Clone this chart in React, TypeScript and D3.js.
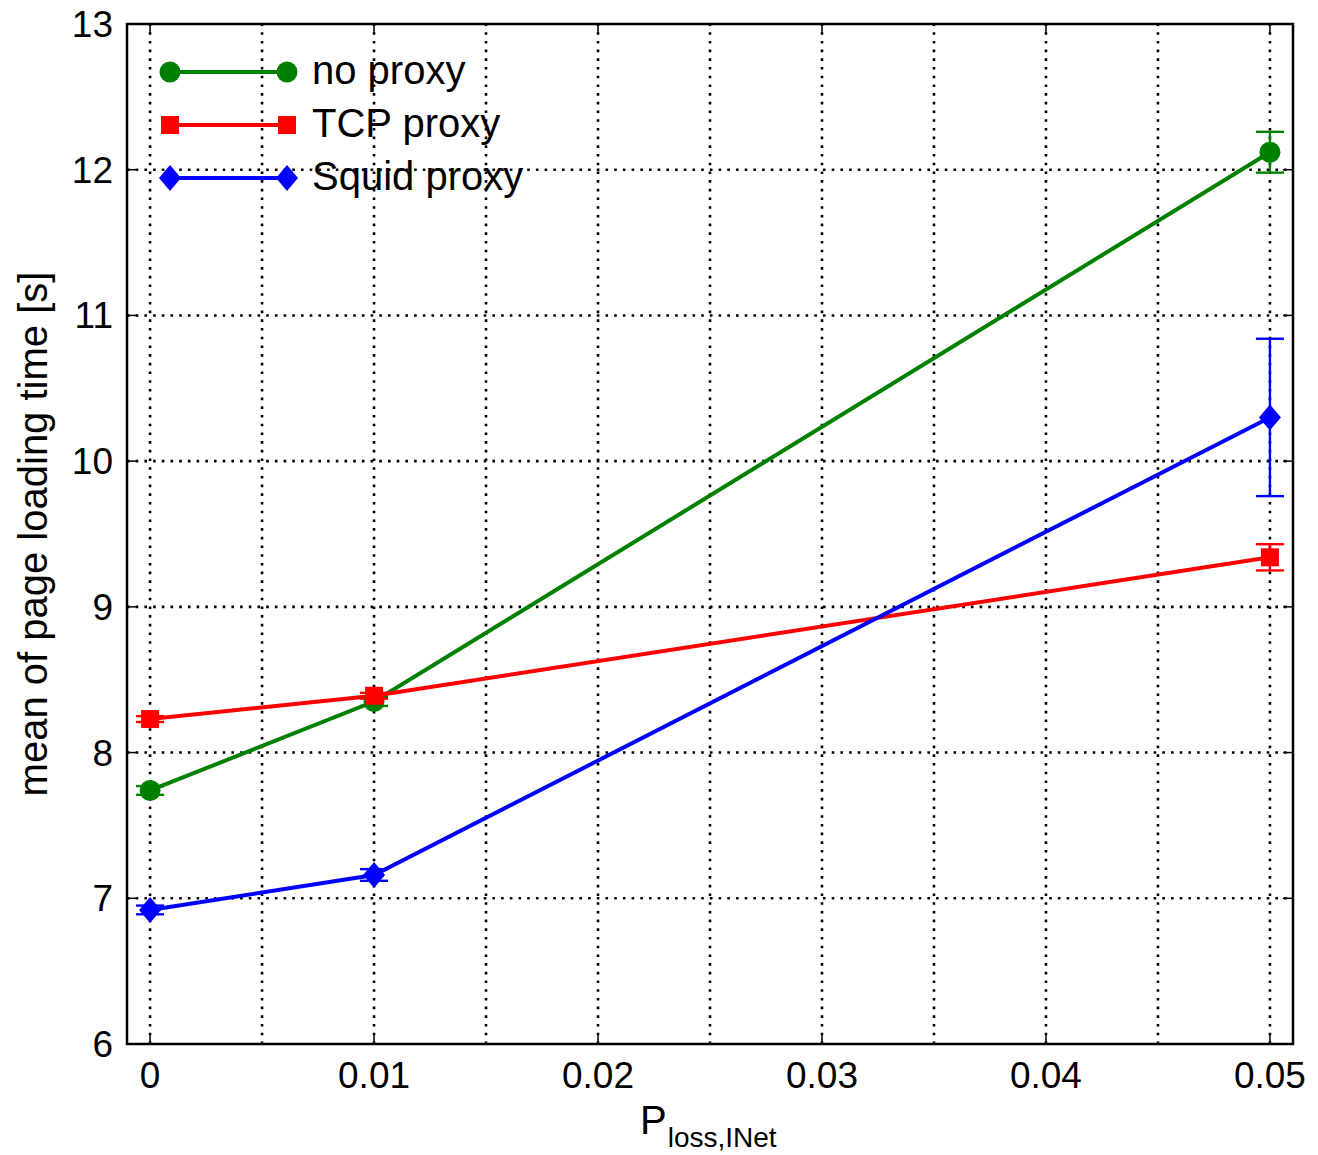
import * as d3 from "d3";
import React, { useEffect, useRef } from "react";

const lossRates = [0, 0.01, 0.05];
const seriesNames = ["no proxy", "TCP proxy", "Squid proxy"];
const seriesColors = ["#008000", "#ff0000", "#0000ff"];
const seriesMarkers = ["circle", "square", "diamond"];
const noProxy = [7.74, 8.35, 12.12];
const noProxyErr = [0.03, 0.03, 0.14];
const tcpProxy = [8.23, 8.39, 9.34];
const tcpProxyErr = [0.02, 0.02, 0.09];
const squidProxy = [6.92, 7.16, 10.3];
const squidProxyErr = [0.03, 0.04, 0.54];
const xTicks = [0, 0.01, 0.02, 0.03, 0.04, 0.05];
const xGrid = [0, 0.005, 0.01, 0.015, 0.02, 0.025, 0.03, 0.035, 0.04, 0.045, 0.05];
const yTicks = [6, 7, 8, 9, 10, 11, 12, 13];

const W = 1318;
const H = 1155;
const margin = { left: 127, right: 25, top: 24, bottom: 111 };
const FONT = "'Liberation Sans', Arial, sans-serif";

const App = () => {
  const ref = useRef<SVGSVGElement>(null);

  useEffect(() => {
    const svg = d3.select(ref.current);
    svg.selectAll("*").remove();

    const x = d3
      .scaleLinear()
      .domain([-0.00103, 0.05103])
      .range([margin.left, W - margin.right]);
    const y = d3
      .scaleLinear()
      .domain([6, 13])
      .range([H - margin.bottom, margin.top]);

    const [x0, x1] = x.range();
    const [y0, y1] = y.range();

    svg.append("rect").attr("width", W).attr("height", H).attr("fill", "#fff");

    // dotted grid
    const grid = svg.append("g").attr("stroke", "#000").attr("stroke-width", 2.6).attr("stroke-dasharray", "2.6,6.1");
    grid
      .selectAll("line.v")
      .data(xGrid)
      .join("line")
      .attr("x1", (d) => x(d))
      .attr("x2", (d) => x(d))
      .attr("y1", y0)
      .attr("y2", y1);
    grid
      .selectAll("line.h")
      .data(yTicks.slice(1, -1))
      .join("line")
      .attr("class", "h")
      .attr("x1", x0)
      .attr("x2", x1)
      .attr("y1", (d) => y(d))
      .attr("y2", (d) => y(d));

    // ticks (inward)
    const ticks = svg.append("g").attr("stroke", "#000").attr("stroke-width", 1.5);
    yTicks.forEach((t) => {
      ticks.append("line").attr("x1", x0).attr("x2", x0 + 10).attr("y1", y(t)).attr("y2", y(t));
      ticks.append("line").attr("x1", x1).attr("x2", x1 - 10).attr("y1", y(t)).attr("y2", y(t));
    });
    xTicks.forEach((t) => {
      ticks.append("line").attr("x1", x(t)).attr("x2", x(t)).attr("y1", y0).attr("y2", y0 - 10);
      ticks.append("line").attr("x1", x(t)).attr("x2", x(t)).attr("y1", y1).attr("y2", y1 + 10);
    });

    // frame
    svg
      .append("rect")
      .attr("x", x0)
      .attr("y", y1)
      .attr("width", x1 - x0)
      .attr("height", y0 - y1)
      .attr("fill", "none")
      .attr("stroke", "#000")
      .attr("stroke-width", 2.5);

    // tick labels
    svg
      .append("g")
      .selectAll("text")
      .data(yTicks)
      .join("text")
      .attr("x", x0 - 14)
      .attr("y", (d) => y(d) + 13)
      .attr("text-anchor", "end")
      .attr("font-family", FONT)
      .attr("font-size", 37)
      .text((d) => d);
    svg
      .append("g")
      .selectAll("text")
      .data(xTicks)
      .join("text")
      .attr("x", (d) => x(d))
      .attr("y", y0 + 44)
      .attr("text-anchor", "middle")
      .attr("font-family", FONT)
      .attr("font-size", 37)
      .text((d) => (d === 0 ? "0" : String(d)));

    // axis titles
    const xl = svg
      .append("text")
      .attr("x", 640)
      .attr("y", 1134)
      .attr("font-family", FONT)
      .attr("font-size", 40);
    xl.append("tspan").text("P");
    xl.append("tspan").attr("font-size", 28).attr("dy", 13).attr("dx", 1).text("loss,INet");

    svg
      .append("text")
      .attr("transform", `translate(47, ${(y0 + y1) / 2}) rotate(-90)`)
      .attr("text-anchor", "middle")
      .attr("font-family", FONT)
      .attr("font-size", 40)
      .text("mean of page loading time [s]");

    const data = [
      { vals: noProxy, errs: noProxyErr },
      { vals: tcpProxy, errs: tcpProxyErr },
      { vals: squidProxy, errs: squidProxyErr },
    ];

    const drawMarker = (g, kind, cx, cy, color) => {
      if (kind === "circle") {
        g.append("circle").attr("cx", cx).attr("cy", cy).attr("r", 10.5).attr("fill", color);
      } else if (kind === "square") {
        g.append("rect").attr("x", cx - 9).attr("y", cy - 9).attr("width", 18).attr("height", 18).attr("fill", color);
      } else {
        g.append("path")
          .attr("d", `M${cx},${cy - 13}L${cx + 11},${cy}L${cx},${cy + 13}L${cx - 11},${cy}Z`)
          .attr("fill", color);
      }
    };

    const line = d3
      .line<number>()
      .x((_, i) => x(lossRates[i]))
      .y((d) => y(d));

    data.forEach((s, si) => {
      const color = seriesColors[si];
      const g = svg.append("g");
      // error bars
      s.vals.forEach((v, i) => {
        const cx = x(lossRates[i]);
        const hi = y(v + s.errs[i]);
        const lo = y(v - s.errs[i]);
        g.append("line").attr("x1", cx).attr("x2", cx).attr("y1", hi).attr("y2", lo).attr("stroke", color).attr("stroke-width", 2.4);
        [hi, lo].forEach((yy) =>
          g.append("line").attr("x1", cx - 14).attr("x2", cx + 14).attr("y1", yy).attr("y2", yy).attr("stroke", color).attr("stroke-width", 2.4)
        );
      });
      g.append("path").attr("d", line(s.vals)).attr("fill", "none").attr("stroke", color).attr("stroke-width", 4);
      s.vals.forEach((v, i) => drawMarker(g, seriesMarkers[si], x(lossRates[i]), y(v), color));
    });

    // legend
    const leg = svg.append("g");
    seriesNames.forEach((name, i) => {
      const ly = 72 + i * 53;
      const color = seriesColors[i];
      leg.append("line").attr("x1", 170).attr("x2", 287).attr("y1", ly).attr("y2", ly).attr("stroke", color).attr("stroke-width", 4);
      drawMarker(leg, seriesMarkers[i], 170, ly, color);
      drawMarker(leg, seriesMarkers[i], 287, ly, color);
      leg
        .append("text")
        .attr("x", 312)
        .attr("y", ly + 12)
        .attr("font-family", FONT)
        .attr("font-size", 40)
        .text(name);
    });
  }, []);

  return (
    <svg
      ref={ref}
      width={W}
      height={H}
      style={{ position: "absolute", left: 0, top: 0 }}
    />
  );
};

export default App;
